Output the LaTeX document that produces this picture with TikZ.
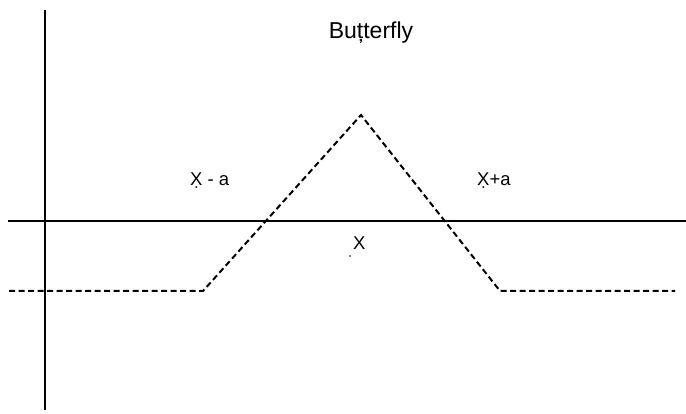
\documentclass[tikz,border=0pt]{standalone}
\usepackage{fontspec}
\setmainfont{Liberation Sans}
\begin{document}
\begin{tikzpicture}[x=1pt,y=-1pt,
  axis/.style={line width=2pt},
  curve/.style={line width=2pt,dash pattern=on 6pt off 3.5pt},
  lbl/.style={inner sep=0pt,anchor=base west,font=\fontsize{18.5}{21}\selectfont},
  ttl/.style={inner sep=0pt,anchor=base,font=\fontsize{23}{26}\selectfont}]
\useasboundingbox (0,0) rectangle (686,414);
% axes
\coordinate (vt) at (45,10);
\coordinate (vb) at (45,410);
\coordinate (hl) at (8,221);
\coordinate (hr) at (686,221);
\draw[axis] (vt) -- (vb);
\draw[axis] (hl) -- (hr);
% butterfly payoff
\coordinate (p0) at (9,291);
\coordinate (p1) at (203,291);
\coordinate (p2) at (361,115);
\coordinate (p3) at (500,291);
\coordinate (p4) at (675,291);
\draw[curve] (p0) -- (p1) -- (p2) -- (p3) -- (p4);
% labels
\node[ttl] (title) at (371,39) {Buțterfly};
\node[lbl] (xma) at (190,186) {X̣ - a};
\node[lbl] (xpa) at (477,186) {X̣+a};
\node[lbl] (x) at (353,250) {X};
\fill (350,256) circle (0.9pt);
\end{tikzpicture}
\end{document}
